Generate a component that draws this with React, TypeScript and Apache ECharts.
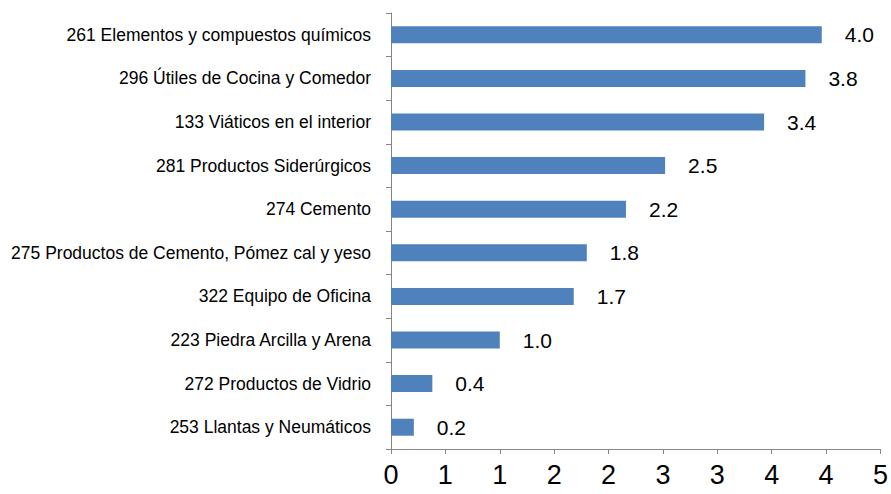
import React, { useEffect, useRef } from "react";
import * as echarts from "echarts";

const categories = [
  "253 Llantas y Neumáticos",
  "272 Productos de Vidrio",
  "223 Piedra Arcilla y Arena",
  "322 Equipo de Oficina",
  "275 Productos de Cemento, Pómez cal y yeso",
  "274 Cemento",
  "281 Productos Siderúrgicos",
  "133 Viáticos en el interior",
  "296 Útiles de Cocina y Comedor",
  "261 Elementos y compuestos químicos",
];
const values = [0.21, 0.38, 1.0, 1.68, 1.8, 2.16, 2.52, 3.43, 3.81, 3.96];
const axisMin = 0;
const axisMax = 4.5;
const axisStep = 0.5;

const FONT = "'Liberation Sans Narrow', 'Arial Narrow', 'Liberation Sans', sans-serif";

export default function App() {
  const ref = useRef<HTMLDivElement>(null);
  useEffect(() => {
    if (!ref.current) return;
    const chart = echarts.init(ref.current, null, { renderer: "svg" });
    chart.setOption({
      animation: false,
      grid: { left: 391, right: 8, top: 13, bottom: 45 },
      xAxis: {
        type: "value",
        min: axisMin,
        max: axisMax,
        interval: axisStep,
        splitLine: { show: false },
        axisLine: { show: true, lineStyle: { color: "#868686", width: 1 } },
        axisTick: { show: true, length: 5, lineStyle: { color: "#868686" } },
        axisLabel: {
          margin: 12,
          color: "#000",
          fontFamily: FONT,
          fontSize: 27,
          formatter: (v: number) => String(Math.round(v + 1e-9)),
        },
      },
      yAxis: {
        type: "category",
        data: categories,
        axisLine: { show: true, lineStyle: { color: "#868686", width: 1 } },
        axisTick: { show: true, length: 5, lineStyle: { color: "#868686" } },
        axisLabel: {
          margin: 20,
          color: "#000",
          fontFamily: FONT,
          fontSize: 17.5,
        },
      },
      series: [
        {
          type: "bar",
          data: values,
          barWidth: 17,
          itemStyle: { color: "#4F81BD" },
          label: {
            show: true,
            position: "right",
            distance: 23,
            color: "#000",
            fontFamily: FONT,
            fontSize: 21,
            formatter: (p: any) => Number(p.value).toFixed(1),
          },
        },
      ],
    });
    return () => chart.dispose();
  }, []);
  return <div ref={ref} style={{ width: 891, height: 494, position: "absolute", left: 0, top: 0 }} />;
}
